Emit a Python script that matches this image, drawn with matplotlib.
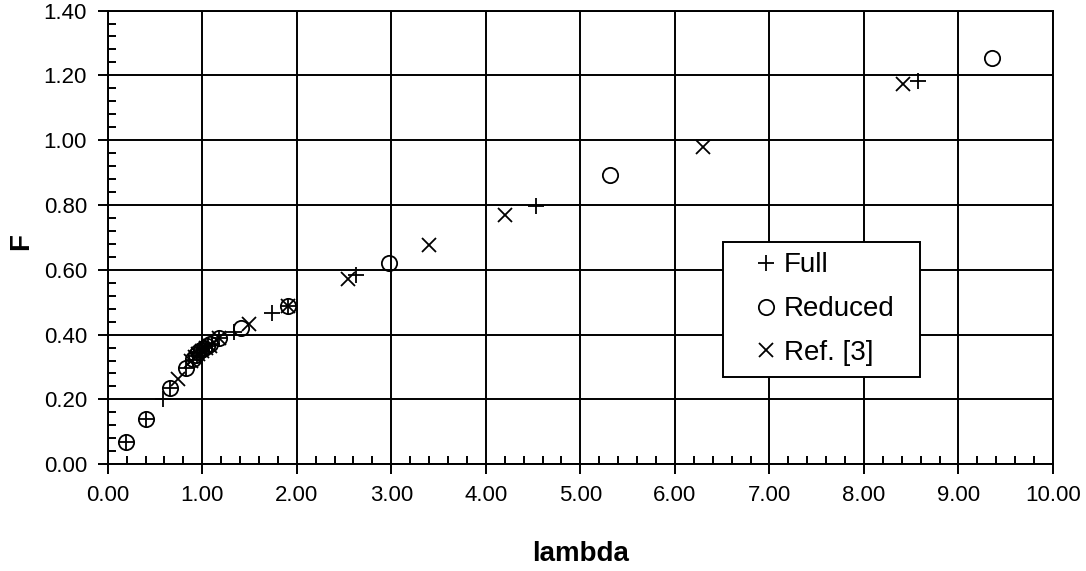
import matplotlib
matplotlib.use("Agg")
import matplotlib.pyplot as plt
from matplotlib.ticker import MultipleLocator, FormatStrFormatter

plt.rcParams['font.family'] = ['Liberation Sans', 'DejaVu Sans']

# Full model
lam_full = [0.19, 0.40, 0.58, 0.66, 0.83, 0.90, 0.94, 0.97, 1.00, 1.03, 1.06,
            1.10, 1.18, 1.34, 1.74, 1.91, 2.63, 4.53, 8.57]
F_full = [0.070, 0.140, 0.200, 0.235, 0.296, 0.322, 0.333, 0.343, 0.352, 0.358,
          0.365, 0.372, 0.388, 0.407, 0.466, 0.489, 0.583, 0.796, 1.183]

# Reduced model
lam_red = [0.19, 0.40, 0.66, 0.83, 0.90, 0.93, 0.96, 0.99, 1.02, 1.05, 1.08,
           1.18, 1.41, 1.91, 2.98, 5.31, 9.35]
F_red = [0.070, 0.140, 0.235, 0.296, 0.326, 0.336, 0.345, 0.352, 0.358, 0.364,
         0.370, 0.388, 0.420, 0.489, 0.622, 0.894, 1.254]

# Ref. [3]
lam_ref = [0.74, 0.88, 0.92, 0.96, 1.00, 1.04, 1.08, 1.18, 1.49, 1.91, 2.54,
           3.40, 4.20, 6.30, 8.41]
F_ref = [0.263, 0.318, 0.330, 0.341, 0.350, 0.358, 0.366, 0.388, 0.432, 0.487,
         0.572, 0.675, 0.768, 0.979, 1.173]

fig = plt.figure(figsize=(10.86, 5.71), dpi=100)
ax = fig.add_axes([0.0992, 0.187, 0.8704, 0.7945])

ms = 11
mew = 1.3
ax.plot(lam_full, F_full, ls='none', marker='+', ms=ms, mew=mew, color='black', label='Full', zorder=3)
ax.plot(lam_red, F_red, ls='none', marker='o', ms=ms, mew=mew, mfc='none', mec='black', label='Reduced', zorder=3)
ax.plot(lam_ref, F_ref, ls='none', marker='x', ms=ms * 0.95, mew=mew, color='black', label='Ref. [3]', zorder=3)

ax.set_xlim(0, 10)
ax.set_ylim(0, 1.4)
ax.xaxis.set_major_locator(MultipleLocator(1.0))
ax.xaxis.set_minor_locator(MultipleLocator(0.2))
ax.yaxis.set_major_locator(MultipleLocator(0.2))
ax.yaxis.set_minor_locator(MultipleLocator(0.04))
ax.xaxis.set_major_formatter(FormatStrFormatter('%.2f'))
ax.yaxis.set_major_formatter(FormatStrFormatter('%.2f'))

ax.grid(True, which='major', color='black', lw=1.4)
ax.set_axisbelow(True)
ax.tick_params(which='major', direction='out', length=7, width=1.4, labelsize=16, pad=8)
ax.tick_params(which='minor', direction='in', length=6, width=1.4)
for s in ax.spines.values():
    s.set_linewidth(1.4)
    s.set_color('black')

ax.set_xlabel('lambda', fontsize=20, fontweight='bold')
ax.set_ylabel('F', fontsize=20, fontweight='bold')
ax.xaxis.set_label_coords(0.5, -0.170)
ax.yaxis.set_label_coords(-0.078, 0.49)

leg = ax.legend(loc='upper left', bbox_to_anchor=(0.651, 0.49, 0.208, 0.0), mode='expand',
                fontsize=20, frameon=True, fancybox=False, numpoints=1,
                handlelength=2.3, handletextpad=-0.5, labelspacing=0.64,
                borderpad=0.38, borderaxespad=0)
leg.get_frame().set_edgecolor('black')
leg.get_frame().set_linewidth(1.4)
leg.get_frame().set_alpha(1)

fig.savefig('out.png', dpi=100)
